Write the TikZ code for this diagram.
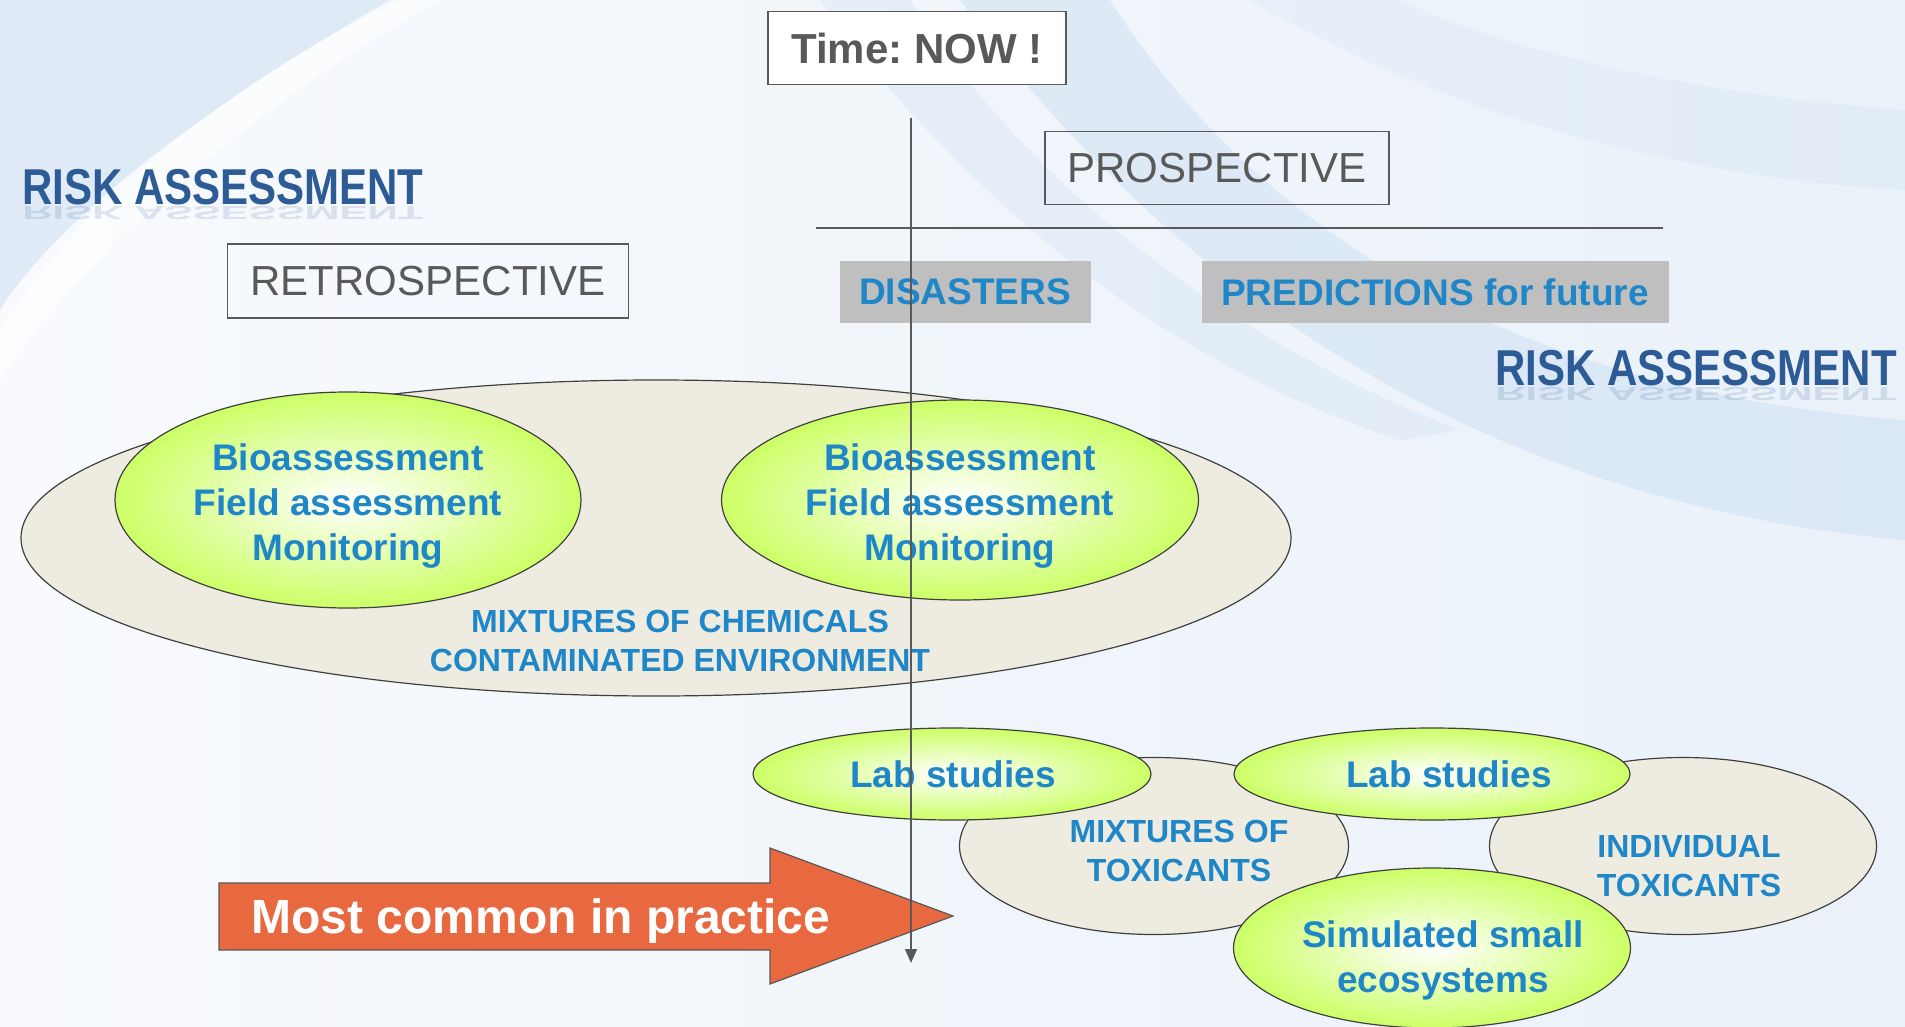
\documentclass[tikz,border=0pt]{standalone}
\usepackage{fontspec}
\setmainfont{Liberation Sans}
\usetikzlibrary{shapes.geometric,arrows.meta,positioning}
\frenchspacing

\definecolor{txtblue}{HTML}{1F86C8}
\definecolor{boxgray}{HTML}{595959}
\definecolor{tagfill}{HTML}{BFBFBF}
\definecolor{beige}{HTML}{EEECE1}
\definecolor{lime}{HTML}{CCFF66}
\definecolor{edgegray}{HTML}{404040}
\definecolor{arrowred}{HTML}{E8693F}
\definecolor{bgleft}{HTML}{F8FAFD}
\definecolor{bgright}{HTML}{EAF1F9}
\definecolor{swoosh}{HTML}{C3D9F0}
\definecolor{riskblue}{HTML}{2D5B95}

\tikzset{
  framebox/.style={draw=boxgray, line width=1.2pt, text=boxgray, inner sep=0pt,
    font=\fontsize{42}{48}\selectfont},
  tagbox/.style={fill=tagfill, text=txtblue, inner sep=0pt, minimum height=62pt,
    font=\bfseries\fontsize{37}{44}\selectfont},
  blob/.style={ellipse, draw=edgegray, line width=1.2pt, inner sep=0pt},
  greenblob/.style={blob, inner color=white, outer color=lime},
  beigeblob/.style={blob, fill=beige},
  bluetext/.style={text=txtblue, align=center, font=\bfseries\fontsize{37}{45}\selectfont},
  smalltext/.style={text=txtblue, align=center, font=\bfseries\fontsize{32}{39}\selectfont},
  risk/.style={text=riskblue, inner sep=0pt, font=\bfseries\fontsize{42}{48}\selectfont},
}

\begin{document}
\begin{tikzpicture}[x=1pt,y=-1pt]
% background
\useasboundingbox (0,0) rectangle (1905,1027);
\shade[left color=bgleft, right color=bgright] (0,0) rectangle (1905,1027);
\fill[swoosh, opacity=0.45] (0,0) -- (390,0) .. controls (250,80) and (70,200) .. (0,310) -- cycle;
\fill[white, opacity=0.6] (0,330) .. controls (80,200) and (250,70) .. (400,0) -- (440,0) .. controls (280,90) and (100,230) .. (0,380) -- cycle;
\fill[swoosh, opacity=0.4] (960,0) .. controls (1150,260) and (1450,500) .. (1905,540)
  -- (1905,420) .. controls (1500,390) and (1250,220) .. (1110,0) -- cycle;
\fill[swoosh, opacity=0.18] (1250,0) .. controls (1450,120) and (1700,180) .. (1905,190)
  -- (1905,110) .. controls (1700,95) and (1500,50) .. (1400,0) -- cycle;
\fill[swoosh, opacity=0.25] (820,0) .. controls (950,180) and (1150,360) .. (1400,440)
  -- (1460,430) .. controls (1200,330) and (1010,160) .. (910,0) -- cycle;

% headings
\node[framebox, fill=white, minimum width=298pt, minimum height=73pt] (now) at (917,48) {\textbf{Time: NOW !}};
\node[framebox, minimum width=344pt, minimum height=73pt] (prosp) at (1217,168) {PROSPECTIVE};
\node[framebox, minimum width=401pt, minimum height=74pt] (retro) at (428,281) {RETROSPECTIVE};
\node[tagbox, minimum width=251pt] (disasters) at (965,292) {\raisebox{-2pt}{DISASTERS}};
\node[tagbox, minimum width=467pt] (predict) at (1435,292) {\raisebox{-2pt}{PREDICTIONS for future}};

\node[risk] (riskleft) at (223,187) {\scalebox{1}[1.2]{RISK ASSESSMENT}};
\node[risk, opacity=0.15, below=1pt of riskleft] (riskleftrefl) {\scalebox{1}[-0.45]{RISK ASSESSMENT}};
\node[risk] (riskright) at (1696,368) {\scalebox{1}[1.2]{RISK ASSESSMENT}};
\node[risk, opacity=0.15, below=1pt of riskright] (riskrightrefl) {\scalebox{1}[-0.45]{RISK ASSESSMENT}};

% field level
\node[beigeblob, minimum width=1270pt, minimum height=316pt] (mixchem) at (656,538) {};
\node[greenblob, minimum width=466pt, minimum height=216pt] (bioleft) at (348,500) {};
\node[greenblob, minimum width=477pt, minimum height=200pt] (bioright) at (960,500) {};
\node[bluetext] (biolefttext) at (348,506) {Bioassessment\\Field assessment\\Monitoring};
\node[bluetext] (biorighttext) at (960,506) {Bioassessment\\Field assessment\\Monitoring};
\node[smalltext] (mixchemtext) at (680,641) {MIXTURES OF CHEMICALS\\CONTAMINATED ENVIRONMENT};

% lab level
\node[beigeblob, minimum width=389pt, minimum height=177pt] (mixtox) at (1154,846) {};
\node[beigeblob, minimum width=387pt, minimum height=177pt] (indtox) at (1683,846) {};
\node[smalltext] (mixtoxtext) at (1179,851) {MIXTURES OF\\TOXICANTS};
\node[smalltext] (indtoxtext) at (1689,866) {INDIVIDUAL\\TOXICANTS};
\node[greenblob, minimum width=398pt, minimum height=92pt] (labone) at (952,774) {};
\node[greenblob, minimum width=396pt, minimum height=92pt] (labtwo) at (1432,774) {};
\node[bluetext] (labonetext) at (953,774) {Lab studies};
\node[bluetext] (labtwotext) at (1449,774) {Lab studies};
\node[greenblob, minimum width=397pt, minimum height=160pt] (simul) at (1432,948) {};
\node[bluetext] (simultext) at (1443,960) {Simulated small\\ecosystems};

% big arrow
\draw[fill=arrowred, draw=boxgray, line width=1.2pt] (219,883) -- (770,883) -- (770,848) -- (953,916)
  -- (770,984) -- (770,950) -- (219,950) -- cycle;
\node[text=white, anchor=west, font=\bfseries\fontsize{48}{56}\selectfont] (practice) at (248,921) {Most common in practice};

% time axis
\coordinate (axistop) at (911,118);
\coordinate (axisend) at (911,963);
\coordinate (splitleft) at (816,228);
\coordinate (splitright) at (1663,228);
\draw[boxgray, line width=1.5pt] (splitleft) -- (splitright);
\draw[boxgray, line width=1.5pt, -{Triangle[length=14pt,width=12pt]}] (axistop) -- (axisend);
\end{tikzpicture}
\end{document}
